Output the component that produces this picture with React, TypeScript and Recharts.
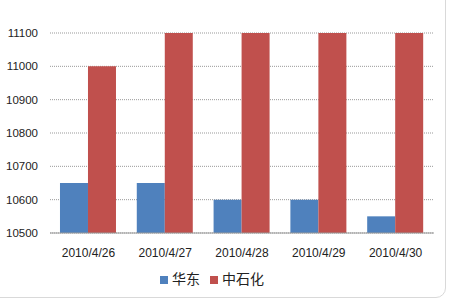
import React from "react";
import {
  BarChart,
  Bar,
  XAxis,
  YAxis,
  CartesianGrid,
  Legend,
} from "recharts";

const dates = ["2010/4/26", "2010/4/27", "2010/4/28", "2010/4/29", "2010/4/30"];
const seriesNames = ["华东", "中石化"];
const huadong = [10650, 10650, 10600, 10600, 10550];
const zhongshihua = [11000, 11100, 11100, 11100, 11100];
const yTicks = [10500, 10600, 10700, 10800, 10900, 11000, 11100];

const data = dates.map((date, i) => ({
  date,
  华东: huadong[i],
  中石化: zhongshihua[i],
}));

const App = () => {
  return (
    <div
      style={{
        position: "absolute",
        left: 0,
        top: 0,
        width: 450,
        height: 300,
        background: "#fff",
        fontFamily: "'Liberation Sans', 'Noto Sans CJK SC', sans-serif",
      }}
    >
      <div
        style={{
          position: "absolute",
          left: -12,
          top: -12,
          width: 458,
          height: 310,
          border: "1px solid #d9d9d9",
          borderRadius: 10,
          boxSizing: "border-box",
        }}
      />
      <BarChart
        width={450}
        height={300}
        data={data}
        margin={{ top: 33, right: 16, bottom: 12, left: 0 }}
        barCategoryGap="13%"
        barGap={0}
      >
        <CartesianGrid
          vertical={false}
          stroke="#999"
          strokeDasharray="1 1"
        />
        <XAxis
          dataKey="date"
          tickLine={false}
          axisLine={{ stroke: "#999" }}
          tick={{ fill: "#222", fontSize: 12 }}
          tickMargin={9}
          height={35}
          interval={0}
        />
        <YAxis
          domain={[10500, 11100]}
          ticks={yTicks}
          axisLine={false}
          tickLine={false}
          tickSize={0}
          tickMargin={12}
          width={50}
          tick={{ fill: "#222", fontSize: 11.5 }}
        />
        <Legend
          verticalAlign="bottom"
          iconType="square"
          iconSize={8}
          itemSorter={(item: any) => seriesNames.indexOf(item.value)}
          wrapperStyle={{ fontSize: 14, color: "#222" }}
          formatter={(v) => <span style={{ color: "#222" }}>{v}</span>}
        />
        <Bar dataKey="华东" fill="#4F81BD" isAnimationActive={false} />
        <Bar dataKey="中石化" fill="#C0504D" isAnimationActive={false} />
      </BarChart>
    </div>
  );
};

export default App;
